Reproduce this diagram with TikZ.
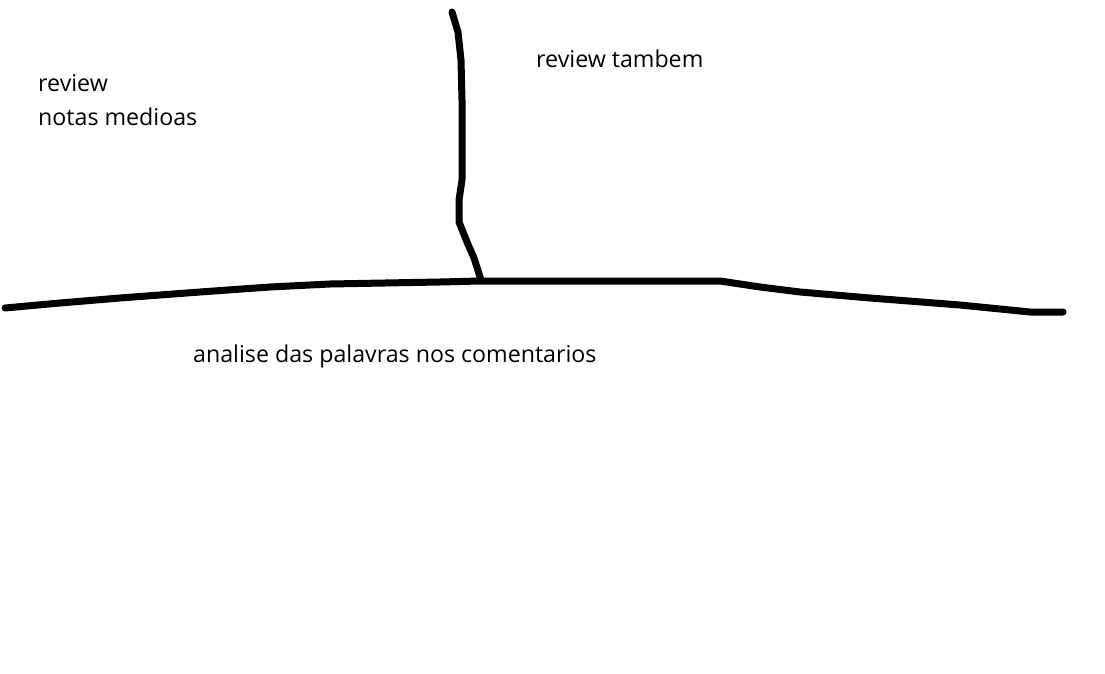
\documentclass[tikz,border=0pt]{standalone}
\usepackage{fontspec}
\setmainfont{Open Sans}
\begin{document}
\begin{tikzpicture}[x=1pt,y=-1pt,
  stroke/.style={line width=7pt,line cap=round,line join=round,black},
  lbl/.style={anchor=base west,inner sep=0pt,font=\fontsize{23.2}{28}\selectfont}]
\useasboundingbox[fill=white] (0,0) rectangle (1105,674);
\coordinate (h0) at (5,308);
\coordinate (h1) at (1063,312);
\coordinate (v0) at (452,12);
\coordinate (v1) at (481,280);
\draw[stroke] (h0) -- (60,303) -- (120,298) -- (200,292) -- (270,287) -- (330,284) -- (440,282) -- (480,281) -- (720,281) -- (760,287) -- (800,292) -- (870,298) -- (960,305) -- (1030,312) -- (h1);
\draw[stroke] (v0) -- (458,32) -- (461,60) -- (462,100) -- (462,180) -- (459,200) -- (459,222) -- (467,242) -- (474,258) -- (v1);
\node[lbl] (t1) at (38,92) {review};
\node[lbl] (t2) at (38,126) {notas medioas};
\node[lbl] (t3) at (536,68) {review tambem};
\node[lbl] (t4) at (193,362) {analise das palavras nos comentarios};
\end{tikzpicture}
\end{document}
